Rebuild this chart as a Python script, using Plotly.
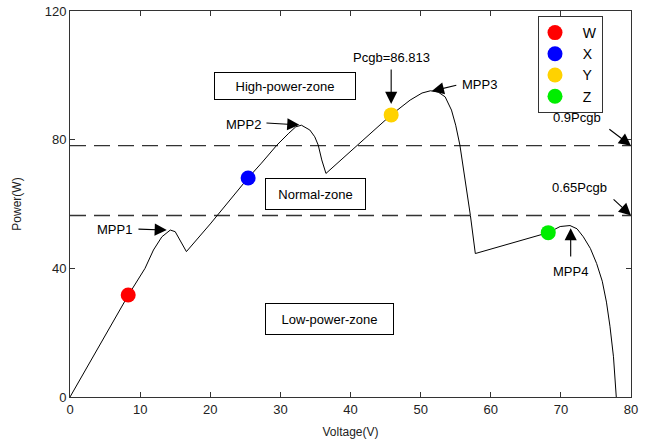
import plotly.graph_objects as go

# ---- data ----
voltage = [0, 2, 4, 6, 8.3, 10.7, 11.9, 13.1, 14.3, 15.0, 15.7, 16.6, 20.0, 25.4, 27.3, 29.5,
           31.2, 32.2, 33.0, 34.2, 34.9, 35.4, 35.9, 36.5, 45.8, 48.5, 50.2, 51.4, 52.5, 53.5,
           54.4, 55.0, 55.6, 56.4, 57.1, 57.8, 68.2, 69.9, 71.3, 72.3, 73.2, 74.2, 75.1, 75.9,
           76.5, 77.0, 77.5, 77.9]
power = [0, 7.6, 15.2, 22.8, 31.6, 40.0, 45.7, 49.8, 51.9, 51.4, 48.8, 45.2, 53.8, 68.1, 72.7, 78.3,
         82.0, 84.0, 84.5, 83.0, 80.9, 78.3, 73.7, 69.5, 87.7, 92.3, 94.5, 95.2, 94.8, 93.3,
         89.2, 84.5, 78.3, 67.0, 56.4, 44.6, 51.1, 53.0, 53.3, 52.3, 49.8, 46.2, 41.5, 36.0,
         29.5, 22.0, 12.5, 0]

point_names = ["W", "X", "Y", "Z"]
point_v = [8.3, 25.4, 45.8, 68.2]
point_p = [31.7, 68.1, 87.7, 51.1]
point_colors = ["#ff0000", "#0000ff", "#ffd200", "#00ee00"]

pcgb = 86.813
level_factors = [0.9, 0.65]
level_labels = ["0.9Pcgb", "0.65Pcgb"]

x_ticks = [0, 10, 20, 30, 40, 50, 60, 70, 80]
y_ticks = [0, 40, 80, 120]

FONT = "Liberation Sans, Arial, sans-serif"

fig = go.Figure()

# threshold lines
for f in level_factors:
    fig.add_trace(go.Scatter(x=[0, 80], y=[f * pcgb, f * pcgb], mode="lines",
                             line=dict(color="#333333", width=1.3, dash="16px,8px"),
                             showlegend=False, hoverinfo="skip"))

# P-V curve
fig.add_trace(go.Scatter(x=voltage, y=power, mode="lines",
                         line=dict(color="black", width=1), showlegend=False))

# operating points
for n, v, p, c in zip(point_names, point_v, point_p, point_colors):
    fig.add_trace(go.Scatter(x=[v], y=[p], mode="markers", name="  " + n,
                             marker=dict(color=c, size=15, line=dict(width=0))))

ann = []
def text_ann(x, y, t, **kw):
    d = dict(x=x, y=y, xref="x", yref="y", text=t, showarrow=False,
             font=dict(family=FONT, size=13, color="black"))
    d.update(kw)
    ann.append(d)

def arrow(tx, ty, hx, hy):
    ann.append(dict(x=hx, y=hy, ax=tx, ay=ty, xref="x", yref="y", axref="x", ayref="y",
                    text="", showarrow=True, arrowhead=2, arrowsize=2.2, arrowwidth=1.1,
                    arrowcolor="black", standoff=0))

text_ann(45.8, 105.4, "Pcgb=86.813")
arrow(45.8, 102.3, 45.8, 91.1)
text_ann(58.4, 97.0, "MPP3")
arrow(55.3, 97.0, 51.6, 95.1)
text_ann(24.7, 84.6, "MPP2")
arrow(27.8, 85.2, 32.7, 84.6)
text_ann(6.4, 52.2, "MPP1")
arrow(9.55, 52.2, 13.8, 51.9)
text_ann(71.4, 38.9, "MPP4")
arrow(71.4, 43.2, 71.4, 52.5)
text_ann(72.3, 87.0, level_labels[0])
arrow(76.7, 83.6, 80.0, level_factors[0] * pcgb)
text_ann(72.7, 65.0, level_labels[1])
arrow(77.3, 61.9, 80.0, level_factors[1] * pcgb)

# zone boxes
box = dict(bordercolor="black", borderwidth=1, bgcolor="white", align="center")
text_ann(30.6, 96.7, "High-power-zone", width=136, height=22, borderpad=2, **box)
text_ann(35.0, 63.1, "Normal-zone", width=95, height=26, borderpad=2, **box)
text_ann(37.0, 24.2, "Low-power-zone", width=123, height=26, borderpad=2, **box)

fig.update_layout(
    width=657, height=446,
    margin=dict(l=70, r=26, t=11, b=49, autoexpand=False),
    plot_bgcolor="white", paper_bgcolor="white",
    font=dict(family=FONT, size=13, color="#222222"),
    annotations=ann,
    legend=dict(
        x=(538 - 70) / 561, y=(397 - 16) / 386, xanchor="left", yanchor="top",
        bordercolor="#333333", borderwidth=1, bgcolor="white",
        font=dict(family=FONT, size=14, color="black"),
        itemwidth=30, tracegroupgap=0, orientation="v", indentation=-4),
)

fig.update_xaxes(range=[0, 80], tickvals=x_ticks, showline=True, mirror="ticks",
                 linecolor="#333333", linewidth=1, ticks="inside", ticklen=5,
                 tickcolor="#333333", showgrid=False, zeroline=False, automargin=False,
                 title=dict(text="Voltage(V)", font=dict(size=12), standoff=12))
fig.update_yaxes(range=[0, 120], tickvals=y_ticks, showline=True, mirror="ticks",
                 linecolor="#333333", linewidth=1, ticks="inside", ticklen=5,
                 tickcolor="#333333", showgrid=False, zeroline=False, automargin=False,
                 title=dict(text="Power(W)", font=dict(size=12), standoff=20))

fig.write_html("out.html")
